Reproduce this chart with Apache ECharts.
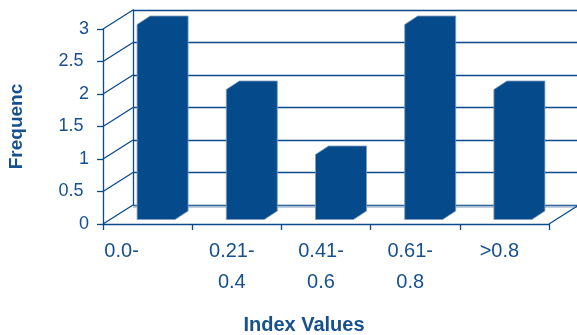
<!DOCTYPE html>
<html>
<head>
<meta charset="utf-8">
<script src="https://cdn.jsdelivr.net/npm/echarts@6/dist/echarts.min.js"></script>
<style>
  html, body { margin: 0; padding: 0; background: #ffffff; }
  #chart { width: 577px; height: 335px; }
</style>
</head>
<body>
<div id="chart"></div>
<script>
// Index value classes and how often each occurs
const categories = ['0.0-', '0.21-\n0.4', '0.41-\n0.6', '0.61-\n0.8', '>0.8'];
const frequencies = [3, 2, 1, 3, 2];
const yTickValues = [0, 0.5, 1, 1.5, 2, 2.5, 3];
const yMin = 0, yMax = 3, yStep = 0.5;

const LINE = '#0B4A8B';
const TEXT = '#17508F';
const BAR = '#054B8C';
const FONT = '"Liberation Sans", Arial, sans-serif';

// Depth of the pseudo-3D box (back wall offset from the front plane)
const DEPTH_X = 30, DEPTH_Y = -19;
// Bars stand a little behind the front plane and have their own depth
const BAR_OFF_X = 8.5, BAR_OFF_Y = -4.5;
const BAR_DX = 13, BAR_DY = -8.5;
const BAR_WIDTH_RATIO = 0.426;

const chart = echarts.init(document.getElementById('chart'), null, { renderer: 'canvas' });

// category labels: each line as its own fragment, first label pushed further left
function xLabelFormatter(value, index) {
  const style = index === 0 ? 'f' : 'c';
  return value.split('\n').map(l => '{' + style + '|' + l + '}').join('\n');
}
const xLabelBase = { fontFamily: FONT, fontSize: 20, color: TEXT, lineHeight: 30.5 };

// value labels: fractional values sit a little left of whole numbers
function yLabelFormatter(value) {
  return Number.isInteger(value) ? '{i|' + value + '}' : '{d|' + value + '}';
}
const yLabelBase = { fontFamily: FONT, fontSize: 18, color: TEXT };

const option = {
  animation: false,
  backgroundColor: '#ffffff',
  grid: [
    { left: 103, right: 28, top: 29, bottom: 111, containLabel: false, outerBoundsMode: 'none' },
    { left: 133, right: -2, top: 10, bottom: 130, containLabel: false, outerBoundsMode: 'none' }
  ],
  xAxis: [
    {
      type: 'category', gridIndex: 0, data: categories, boundaryGap: true,
      axisLine: { show: true, lineStyle: { color: LINE, width: 1.3 } },
      axisTick: { show: true, length: 6, lineStyle: { color: LINE, width: 1.3 } },
      axisLabel: {
        margin: 12.5, interval: 0, formatter: xLabelFormatter,
        rich: {
          f: Object.assign({ padding: [0, 52, 0, 0] }, xLabelBase),
          c: Object.assign({ padding: [0, 10, 0, 0] }, xLabelBase)
        }
      },
      name: 'Index Values', nameLocation: 'middle', nameGap: 91,
      nameTextStyle: { fontFamily: FONT, fontSize: 20, fontWeight: 'bold', color: TEXT, padding: [0, 44, 0, 0] }
    },
    { type: 'category', gridIndex: 1, data: categories, show: false }
  ],
  yAxis: [
    {
      type: 'value', gridIndex: 0, min: yMin, max: yMax, interval: yStep,
      axisLine: { show: true, lineStyle: { color: LINE, width: 1.3 } },
      axisTick: { show: true, length: 6, lineStyle: { color: LINE, width: 1.3 } },
      axisLabel: {
        margin: 14, formatter: yLabelFormatter,
        rich: {
          i: Object.assign({ padding: [0, 0, 0, 0] }, yLabelBase),
          d: Object.assign({ padding: [0, 5.5, 0, 0] }, yLabelBase)
        }
      },
      splitLine: { show: false },
      name: 'Frequenc', nameLocation: 'middle', nameGap: 77, nameRotate: 90,
      nameTextStyle: { fontFamily: FONT, fontSize: 19, fontWeight: 'bold', color: TEXT }
    },
    {
      type: 'value', gridIndex: 1, min: yMin, max: yMax, interval: yStep,
      axisLine: { show: true, lineStyle: { color: LINE, width: 1.3 } },
      axisTick: { show: false }, axisLabel: { show: false },
      splitLine: { show: true, lineStyle: { color: LINE, width: 1.3 } }
    }
  ],
  series: [
    {
      // left side wall: each value line runs from the front axis back to the wall
      type: 'custom', xAxisIndex: 0, yAxisIndex: 0, z: 1, silent: true,
      data: yTickValues.map(v => [0, v]),
      renderItem: function (params, api) {
        const p = api.coord([0, api.value(1)]);
        const half = api.size([1, 0])[0] / 2;
        const x = p[0] - half, y = p[1];
        return {
          type: 'line',
          shape: { x1: x, y1: y, x2: x + DEPTH_X, y2: y + DEPTH_Y },
          style: { stroke: LINE, lineWidth: 1.3 }
        };
      }
    },
    {
      // floor: back edge and right-hand diagonal
      type: 'custom', xAxisIndex: 0, yAxisIndex: 0, z: 1, silent: true,
      data: [[categories.length - 1, 0]],
      renderItem: function (params, api) {
        const first = api.coord([0, 0]);
        const last = api.coord([api.value(0), 0]);
        const half = api.size([1, 0])[0] / 2;
        const xl = first[0] - half + DEPTH_X;
        const xr = last[0] + half;
        const y = last[1];
        return {
          type: 'group',
          children: [
            {
              type: 'line',
              shape: { x1: xl, y1: y + DEPTH_Y + 1.8, x2: xr + DEPTH_X, y2: y + DEPTH_Y + 1.8 },
              style: { stroke: '#a9bdd3', lineWidth: 2 }
            },
            {
              type: 'line',
              shape: { x1: xr, y1: y, x2: xr + DEPTH_X, y2: y + DEPTH_Y },
              style: { stroke: LINE, lineWidth: 1.3 }
            }
          ]
        };
      }
    },
    {
      // bars drawn as prisms: front face plus the receding right side and top
      type: 'custom', xAxisIndex: 0, yAxisIndex: 0, z: 5,
      data: frequencies.map((v, i) => [i, v]),
      renderItem: function (params, api) {
        const top = api.coord([api.value(0), api.value(1)]);
        const base = api.coord([api.value(0), 0]);
        const bw = api.size([1, 0])[0] * BAR_WIDTH_RATIO;
        const cx = top[0] + BAR_OFF_X;
        const L = cx - bw / 2, R = cx + bw / 2;
        const yT = top[1] + BAR_OFF_Y, y0 = base[1] + BAR_OFF_Y;
        return {
          type: 'polygon',
          shape: {
            points: [
              [L, yT], [L + BAR_DX, yT + BAR_DY], [R + BAR_DX, yT + BAR_DY],
              [R + BAR_DX, y0 + BAR_DY], [R, y0], [L, y0]
            ]
          },
          style: { fill: BAR, stroke: '#7f9cbd', lineWidth: 0.8 }
        };
      }
    }
  ]
};

chart.setOption(option);
</script>
</body>
</html>
